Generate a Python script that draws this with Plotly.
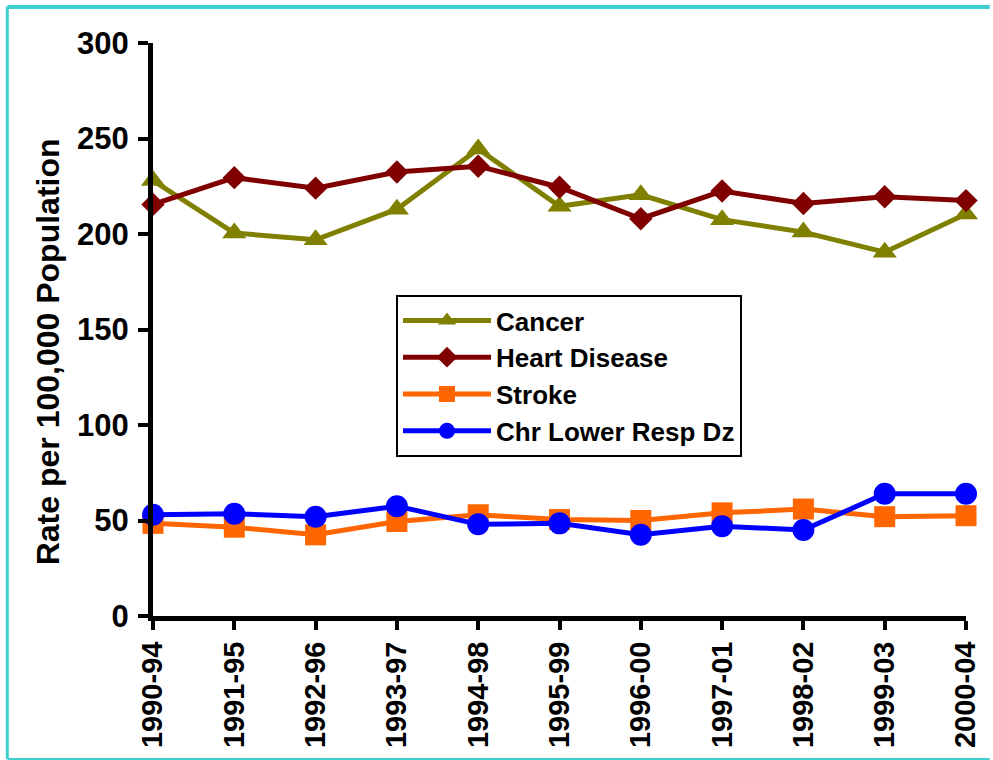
import plotly.graph_objects as go

periods = ["1990-94", "1991-95", "1992-96", "1993-97", "1994-98", "1995-99",
           "1996-00", "1997-01", "1998-02", "1999-03", "2000-04"]
cancer = [228, 200.5, 197, 213, 244.5, 214.5, 220.5, 207.5, 201, 190.5, 210.5]
heart = [215.5, 229.5, 224, 232.5, 235.5, 224.5, 208, 222.5, 216, 219.5, 217.5]
stroke = [48.5, 46.5, 42.5, 49.5, 53, 50.5, 50, 54, 56, 52, 52.5]
clrd = [53, 53.5, 52, 57.5, 48, 48.5, 42.5, 47, 45, 64, 64]

series = [
    ("Cancer", cancer, "#808000", "triangle-up", 21),
    ("Heart Disease", heart, "#800000", "diamond", 18),
    ("Stroke", stroke, "#FF6600", "square", 21),
    ("Chr Lower Resp Dz", clrd, "#0000FF", "circle", 22),
]

FONT = "Liberation Sans, Arial, sans-serif"

fig = go.Figure()
for name, vals, color, sym, size in series:
    fig.add_trace(go.Scatter(
        x=list(range(len(periods))), y=vals, name=name, mode="lines+markers",
        line=dict(color=color, width=5),
        marker=dict(symbol=sym, size=size, color=color),
        cliponaxis=False,
    ))

W, H = 993, 760
L, R, T, B = 153, 17, 43, 144
pw, ph = W - L - R, H - T - B

def px(x):
    return (x - L) / pw

def py(y):
    return (H - B - y) / ph

fig.update_layout(
    width=W, height=H,
    margin=dict(l=L, r=R, t=T, b=B),
    paper_bgcolor="white", plot_bgcolor="white",
    font=dict(family=FONT, color="black"),
    showlegend=True,
    legend=dict(
        x=px(399), y=py(295), xanchor="left", yanchor="top",
        bgcolor="white", bordercolor="black", borderwidth=2,
        font=dict(family=FONT, size=26, color="black", weight="bold"),
        tracegroupgap=0, itemwidth=88, entrywidth=390,
    ),
    xaxis=dict(
        range=[0, len(periods) - 1],
        tickmode="array", tickvals=list(range(len(periods))), ticktext=periods,
        tickangle=-90, ticks="outside", ticklen=9, tickwidth=4, tickcolor="black",
        showline=True, linecolor="black", linewidth=5, showgrid=False, zeroline=False,
        tickfont=dict(family=FONT, size=29, color="black", weight="bold"),
    ),
    yaxis=dict(
        range=[0, 300], tickmode="array", tickvals=[0, 50, 100, 150, 200, 250, 300],
        ticks="outside", ticklen=10, tickwidth=4, tickcolor="black",
        ticklabelstandoff=3,
        showline=True, linecolor="black", linewidth=5, showgrid=False, zeroline=False,
        tickfont=dict(family=FONT, size=31, color="black", weight="bold"),
    ),
    annotations=[dict(
        text="Rate per 100,000 Population", xref="paper", yref="paper",
        x=px(47), y=py(352), xanchor="center", yanchor="middle",
        textangle=-90, showarrow=False,
        font=dict(family=FONT, size=32, color="black", weight="bold"),
    )],
)

border = "#3ECFCF"
fig.add_shape(type="line", xref="paper", yref="paper", x0=px(5.5), x1=px(1000),
              y0=py(7), y1=py(7), line=dict(color=border, width=4))
fig.add_shape(type="line", xref="paper", yref="paper", x0=px(5.5), x1=px(5.5),
              y0=py(7), y1=py(759), line=dict(color=border, width=3))
fig.add_shape(type="line", xref="paper", yref="paper", x0=px(5.5), x1=px(1000),
              y0=py(759), y1=py(759), line=dict(color=border, width=2))

fig.write_html(
    "out.html",
    config={"displayModeBar": False},
    post_script="document.body.style.margin='0';document.body.style.overflow='hidden';",
)
